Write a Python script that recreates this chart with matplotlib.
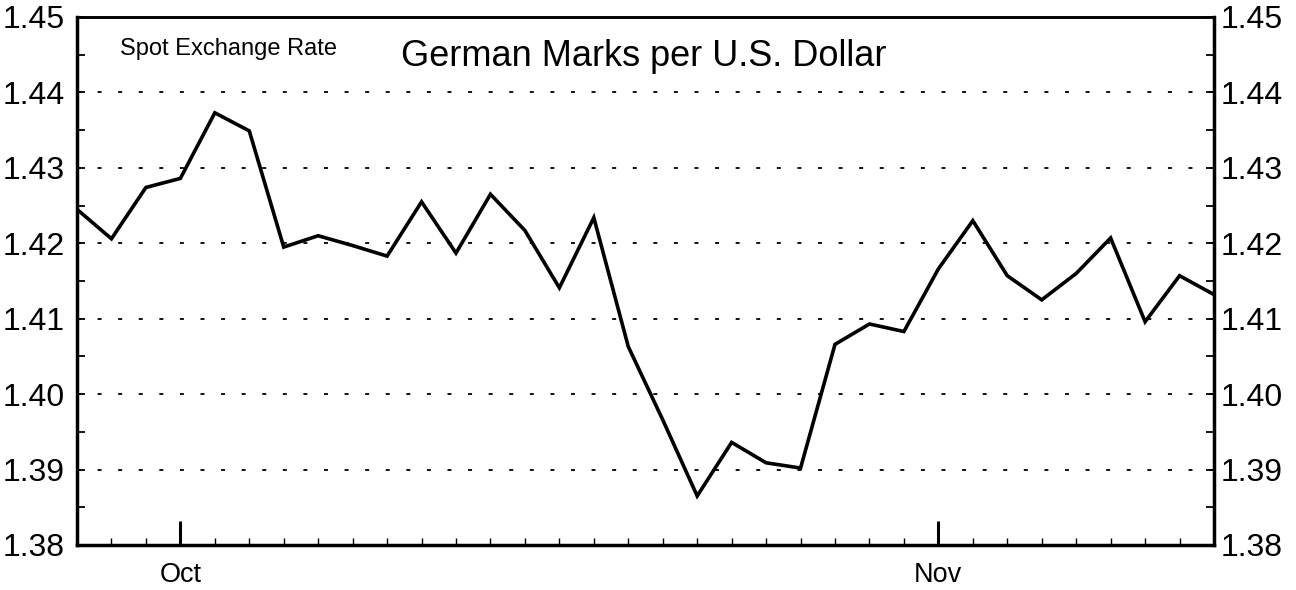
import matplotlib
matplotlib.use("Agg")
import matplotlib.pyplot as plt
from matplotlib.ticker import MultipleLocator, FixedLocator

plt.rcParams['font.family'] = ['Liberation Sans', 'DejaVu Sans']

# Business days, 27 Sep 1995 - 13 Nov 1995
dates = ["Sep 27", "Sep 28", "Sep 29",
         "Oct 2", "Oct 3", "Oct 4", "Oct 5", "Oct 6",
         "Oct 9", "Oct 10", "Oct 11", "Oct 12", "Oct 13",
         "Oct 16", "Oct 17", "Oct 18", "Oct 19", "Oct 20",
         "Oct 23", "Oct 24", "Oct 25", "Oct 26", "Oct 27",
         "Oct 30", "Oct 31",
         "Nov 1", "Nov 2", "Nov 3",
         "Nov 6", "Nov 7", "Nov 8", "Nov 9", "Nov 10",
         "Nov 13"]
rate = [1.4245, 1.4206, 1.4274, 1.4286, 1.4373, 1.4349, 1.4195, 1.4210,
        1.4197, 1.4183, 1.4255, 1.4187, 1.4265, 1.4217, 1.4141, 1.4234,
        1.4063, 1.3966, 1.3865, 1.3936, 1.3909, 1.3902, 1.4066, 1.4093,
        1.4083, 1.4166, 1.4230, 1.4157, 1.4125, 1.4160, 1.4207, 1.4096,
        1.4157, 1.4132]
month_labels = ["Oct", "Nov"]
month_starts = ["Oct 2", "Nov 1"]
y_ticks = [1.38, 1.39, 1.40, 1.41, 1.42, 1.43, 1.44, 1.45]
grid_levels = [1.39, 1.40, 1.41, 1.42, 1.43, 1.44]

x = list(range(len(dates)))
major_pos = [dates.index(d) for d in month_starts]

fig = plt.figure(figsize=(12.96, 5.90), dpi=100)
ax = fig.add_axes([77/1296, 1-545/590, (1214-77)/1296, (545-17)/590])

for g in grid_levels:
    ax.axhline(g, color='black', lw=1.3, linestyle=(0, (2.2, 9.2)), zorder=1)

ax.plot(x, rate, color='black', lw=2.6, solid_joinstyle='miter', zorder=3)

ax.set_xlim(0, len(dates) - 1)
ax.set_ylim(1.38, 1.45)

for s in ax.spines.values():
    s.set_linewidth(2.5)
ax.spines['top'].set_linewidth(2.1)

# X ticks
ax.xaxis.set_major_locator(FixedLocator(major_pos))
ax.set_xticklabels(month_labels)
ax.xaxis.set_minor_locator(FixedLocator([i for i in x if i not in major_pos]))
ax.tick_params(axis='x', which='major', direction='in', length=17, width=2.2,
               labelsize=19.5, pad=12, top=False)
ax.tick_params(axis='x', which='minor', direction='in', length=5, width=1.0,
               top=False)

# Y ticks (left labels)
ax.set_yticks(y_ticks)
ax.set_yticklabels([f"{v:.2f}" for v in y_ticks])
ax.yaxis.set_minor_locator(MultipleLocator(0.005))
ax.tick_params(axis='y', which='both', direction='in', length=6, width=1.3,
               labelsize=23, left=True, right=True, labelleft=True,
               labelright=False, pad=9)

# right-hand labels
axr = ax.twinx()
axr.set_ylim(ax.get_ylim())
axr.set_yticks(y_ticks)
axr.set_yticklabels([f"{v:.2f}" for v in y_ticks])
axr.yaxis.set_minor_locator(MultipleLocator(0.005))
axr.tick_params(axis='y', which='both', direction='in', length=6, width=1.3,
                labelsize=23, pad=5)
for s in axr.spines.values():
    s.set_visible(False)

ax.text(0.038, 0.94, "Spot Exchange Rate", transform=ax.transAxes,
        fontsize=17, ha='left', va='center')
ax.text(0.285, 0.925, "German Marks per U.S. Dollar", transform=ax.transAxes,
        fontsize=26, ha='left', va='center')

fig.savefig("out.png", dpi=100)
